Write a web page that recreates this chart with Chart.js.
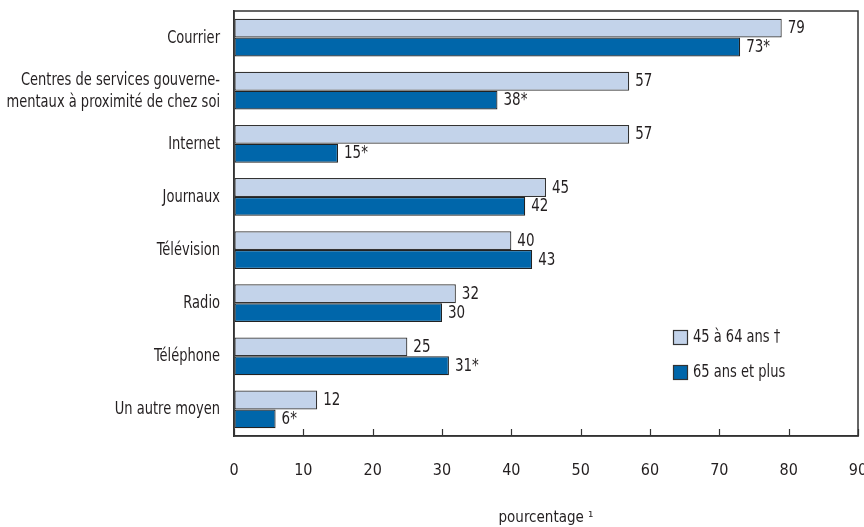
<!DOCTYPE html>
<html><head><meta charset="utf-8">
<script src="https://cdn.jsdelivr.net/npm/chart.js@4/dist/chart.umd.min.js"></script>
<style>html,body{margin:0;padding:0;background:#fff}#wrap{width:864px;height:527px}</style>
</head><body><div id="wrap"><canvas id="c" width="864" height="527"></canvas></div>
<script>
const categories = ["Courrier", ["Centres de services gouverne-", "mentaux à proximité de chez soi"], "Internet", "Journaux", "Télévision", "Radio", "Téléphone", "Un autre moyen"];
const seriesNames = ["45 à 64 ans †", "65 ans et plus"];
const values4564 = [79, 57, 57, 45, 40, 32, 25, 12];
const values65 = [73, 38, 15, 42, 43, 30, 31, 6];
const labels4564 = ["79", "57", "57", "45", "40", "32", "25", "12"];
const labels65 = ["73*", "38*", "15*", "42", "43", "30", "31*", "6*"];
const xTicks = [0, 10, 20, 30, 40, 50, 60, 70, 80, 90];
const axisTitle = "pourcentage ¹";

const FONT = "'DejaVu Sans Condensed', sans-serif";
const INK = '#231f20';
const STRETCH = 1.18;

function tallText(ctx, text, x, y) {
  ctx.save();
  ctx.translate(x, y);
  ctx.scale(1, STRETCH);
  ctx.fillText(text, 0, 0);
  ctx.restore();
}

const framePlugin = {
  id: 'frame',
  afterDatasetsDraw(chart) {
    const {ctx, chartArea: a, scales: {x, y}} = chart;
    ctx.save();
    ctx.strokeStyle = '#333';
    ctx.lineWidth = 1.5;
    ctx.strokeRect(a.left, a.top, a.right - a.left, a.bottom - a.top);
    ctx.lineWidth = 1.2;
    xTicks.forEach(v => {
      const px = Math.round(x.getPixelForValue(v)) + 0.5;
      ctx.beginPath(); ctx.moveTo(px, a.bottom); ctx.lineTo(px, a.bottom - 7); ctx.stroke();
    });
    ctx.fillStyle = INK;
    ctx.textBaseline = 'middle';
    // category labels
    ctx.font = "14.5px " + FONT;
    ctx.textAlign = 'right';
    chart.data.labels.forEach((lab, i) => {
      const cy = y.getPixelForTick(i);
      const lines = Array.isArray(lab) ? lab : [lab];
      const lh = 22;
      lines.forEach((ln, k) => {
        tallText(ctx, ln, a.left - 14, cy + (k - (lines.length - 1) / 2) * lh + 0.5);
      });
    });
    // value labels
    ctx.font = "15px " + FONT;
    ctx.textAlign = 'left';
    const lbls = [labels4564, labels65];
    chart.data.datasets.forEach((ds, di) => {
      chart.getDatasetMeta(di).data.forEach((bar, i) => {
        tallText(ctx, lbls[di][i], bar.x + 6, bar.y + 0.5);
      });
    });
    // legend
    const lx = a.left + 439, ly = [a.bottom - 99, a.bottom - 64];
    chart.data.datasets.forEach((ds, di) => {
      ctx.fillStyle = ds.backgroundColor;
      ctx.fillRect(lx, ly[di] - 7, 14, 14);
      ctx.lineWidth = 1.2;
      ctx.strokeStyle = '#333';
      ctx.strokeRect(lx + 0.5, ly[di] - 6.5, 14, 14);
      ctx.fillStyle = INK;
      ctx.font = "14.5px " + FONT;
      tallText(ctx, ds.label, lx + 20, ly[di] + 0.5);
    });
    ctx.restore();
  }
};

new Chart(document.getElementById('c'), {
  type: 'bar',
  data: {
    labels: categories,
    datasets: [
      {label: seriesNames[0], data: values4564, backgroundColor: '#c3d3ea', borderColor: '#333', borderWidth: 1.2, borderSkipped: false},
      {label: seriesNames[1], data: values65, backgroundColor: '#0066aa', borderColor: '#222', borderWidth: 1.2, borderSkipped: false}
    ]
  },
  options: {
    indexAxis: 'y',
    responsive: false,
    animation: false,
    devicePixelRatio: 1,
    layout: {padding: {top: 11, right: 6, left: 0, bottom: 0}},
    datasets: {bar: {categoryPercentage: 0.71, barPercentage: 1.0}},
    plugins: {legend: {display: false}, tooltip: {enabled: false}},
    scales: {
      x: {
        min: 0, max: 90,
        afterBuildTicks(s) { s.ticks = xTicks.map(v => ({value: v})); },
        afterFit(s) { s.height = 91; s.paddingLeft = 0; s.paddingRight = 0; },
        grid: {drawOnChartArea: false, drawTicks: false},
        border: {display: true, color: '#333', width: 1.5},
        ticks: {padding: 25, color: INK, font: {family: FONT, size: 16}},
        title: {display: true, text: axisTitle, color: INK, font: {family: FONT, size: 15}, padding: {top: 22, bottom: 0}}
      },
      y: {
        afterFit(s) { s.width = 234; s.paddingTop = 0; s.paddingBottom = 0; },
        grid: {drawOnChartArea: false, drawTicks: false},
        border: {display: true, color: '#333', width: 1.5},
        ticks: {display: false}
      }
    }
  },
  plugins: [framePlugin]
});
</script></body></html>
